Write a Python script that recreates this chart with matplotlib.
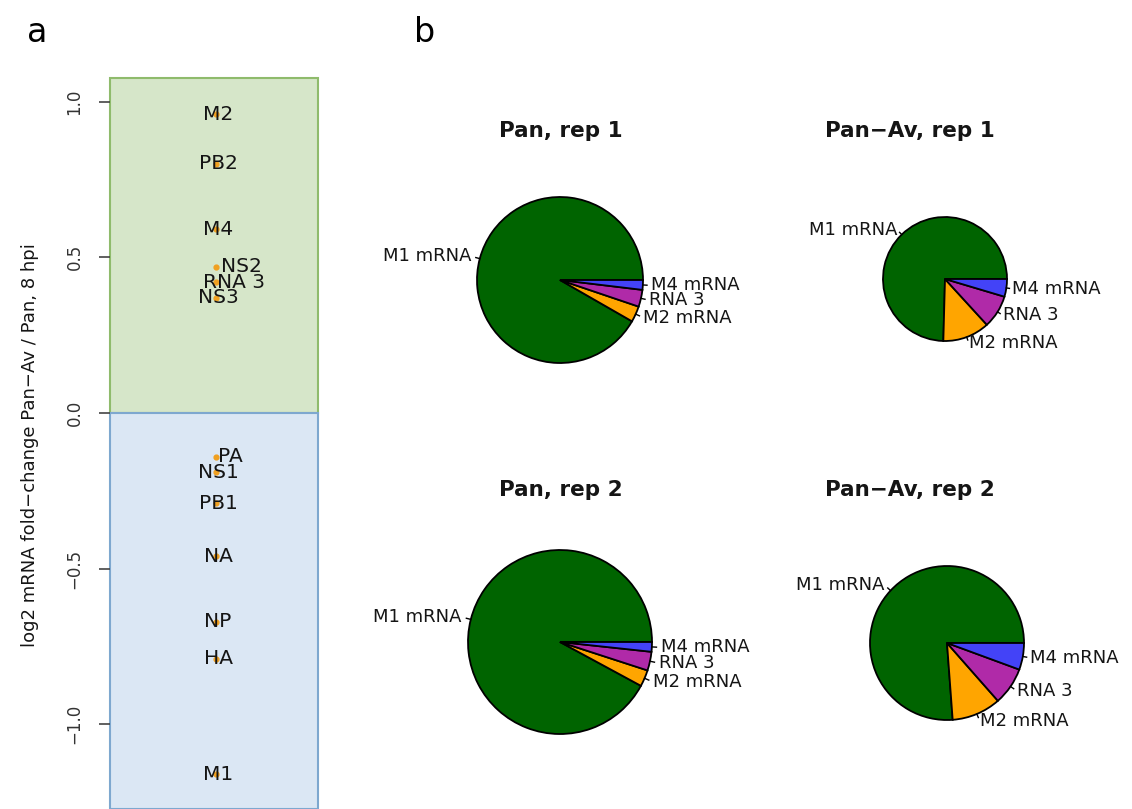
"""
plot.py

Panel a: log2 mRNA fold-change per segment (Pan-Av vs Pan, 8 hpi).
Panel b: share of segment 7 transcripts (M1/M2/M4 mRNA, RNA 3) per sample.
"""

import matplotlib
matplotlib.use("Agg")
import matplotlib.pyplot as plt
from matplotlib.patches import Rectangle
import numpy as np

W, H = 1132, 809

# panel a data
genes = ["M2", "PB2", "M4", "NS2", "RNA 3", "NS3", "PA", "NS1", "PB1", "NA", "NP", "HA", "M1"]
log2fc = [0.96, 0.80, 0.59, 0.47, 0.42, 0.37, -0.14, -0.19, -0.29, -0.46, -0.67, -0.79, -1.16]

# panel b data (percent of segment 7 reads)
segments = ["M1 mRNA", "M2 mRNA", "RNA 3", "M4 mRNA"]
pan_rep1 = [91.8, 3.1, 3.3, 1.9]
pan_av_rep1 = [74.5, 12.2, 8.6, 4.6]
pan_rep2 = [92.1, 2.9, 3.3, 1.7]
pan_av_rep2 = [76.1, 10.3, 7.9, 5.6]
pie_titles = ["Pan, rep 1", "Pan\u2212Av, rep 1", "Pan, rep 2", "Pan\u2212Av, rep 2"]

SEG_COLORS = ["#006400", "#FFA500", "#B02AA8", "#4343F7"]
UP_FILL, UP_EDGE = "#d6e6c9", "#8fbb6c"
DOWN_FILL, DOWN_EDGE = "#dbe7f4", "#7ea8cf"
TXT = "#151515"

# text nudges (px) where labels overlap in the original
label_dx = {"NS2": 23, "RNA 3": 16, "PA": 12}

fig = plt.figure(figsize=(W / 100, H / 100), dpi=100)

# ---- panel a ----
ax = fig.add_axes([110 / W, 0, 208 / W, 731 / H])
ylo, yhi = -1.272, 1.076
ax.set_xlim(0, 1)
ax.set_ylim(ylo, yhi)
ax.add_patch(Rectangle((0, 0), 1, yhi, facecolor=UP_FILL, edgecolor=UP_EDGE,
                       lw=1.5, clip_on=False, zorder=0))
ax.add_patch(Rectangle((0, ylo), 1, -ylo, facecolor=DOWN_FILL, edgecolor=DOWN_EDGE,
                       lw=1.5, clip_on=False, zorder=0))
for s in ax.spines.values():
    s.set_visible(False)
ax.set_xticks([])
ticks = [-1.0, -0.5, 0.0, 0.5, 1.0]
ax.set_yticks(ticks)
ax.set_yticklabels([f"{t:.1f}".replace("-", "\u2212") for t in ticks],
                   rotation=90, va="center", fontsize=12, color="#333333")
ax.tick_params(axis="y", length=8, width=1.2, pad=11, color="#444444")

ax.scatter([0.51] * len(genes), log2fc, s=12, color="#f0a020", zorder=2)
for g, v in zip(genes, log2fc):
    dx = label_dx.get(g, 0) / 208
    ax.text(0.52 + dx, v, g, ha="center", va="center", fontsize=14.5,
            color=TXT, zorder=3)

fig.text(30 / W, 1 - 445 / H, "log2 mRNA fold\u2212change Pan\u2212Av / Pan, 8 hpi",
         rotation=90, ha="center", va="center", fontsize=13, color=TXT)
fig.text(37 / W, 1 - 33 / H, "a", ha="center", va="center", fontsize=24)
fig.text(425 / W, 1 - 33 / H, "b", ha="center", va="center", fontsize=24)

# ---- panel b ----
pax = fig.add_axes([0, 0, 1, 1])
pax.set_zorder(5)
pie_data = [pan_rep1, pan_av_rep1, pan_rep2, pan_av_rep2]
centers = [(560, 280), (945, 279), (560, 642), (947, 643)]
radii = [83, 62, 92, 77]
title_pos = [(561, 131), (910, 131), (561, 490), (910, 490)]

for vals, (cx, cy), r, title, (tx, ty) in zip(pie_data, centers, radii, pie_titles, title_pos):
    wedges, texts = pax.pie(vals, labels=segments, colors=SEG_COLORS, startangle=0,
                            counterclock=True, center=(cx, H - cy), radius=r,
                            labeldistance=1.1, frame=True,
                            wedgeprops=dict(edgecolor="black", linewidth=1.3),
                            textprops=dict(fontsize=13, color=TXT))
    for w, t in zip(wedges, texts):
        th = np.deg2rad((w.theta1 + w.theta2) / 2)
        t.set_ha("left" if np.cos(th) >= 0 else "right")
        pax.plot([cx + r * np.cos(th), cx + 1.05 * r * np.cos(th)],
                 [H - cy + r * np.sin(th), H - cy + 1.05 * r * np.sin(th)],
                 color="black", lw=1)
    pax.text(tx, H - ty, title, ha="center", va="center", fontsize=15.5,
             fontweight="bold", color=TXT)

pax.set_xlim(0, W)
pax.set_ylim(0, H)
pax.axis("off")

fig.savefig("out.png", dpi=100)
